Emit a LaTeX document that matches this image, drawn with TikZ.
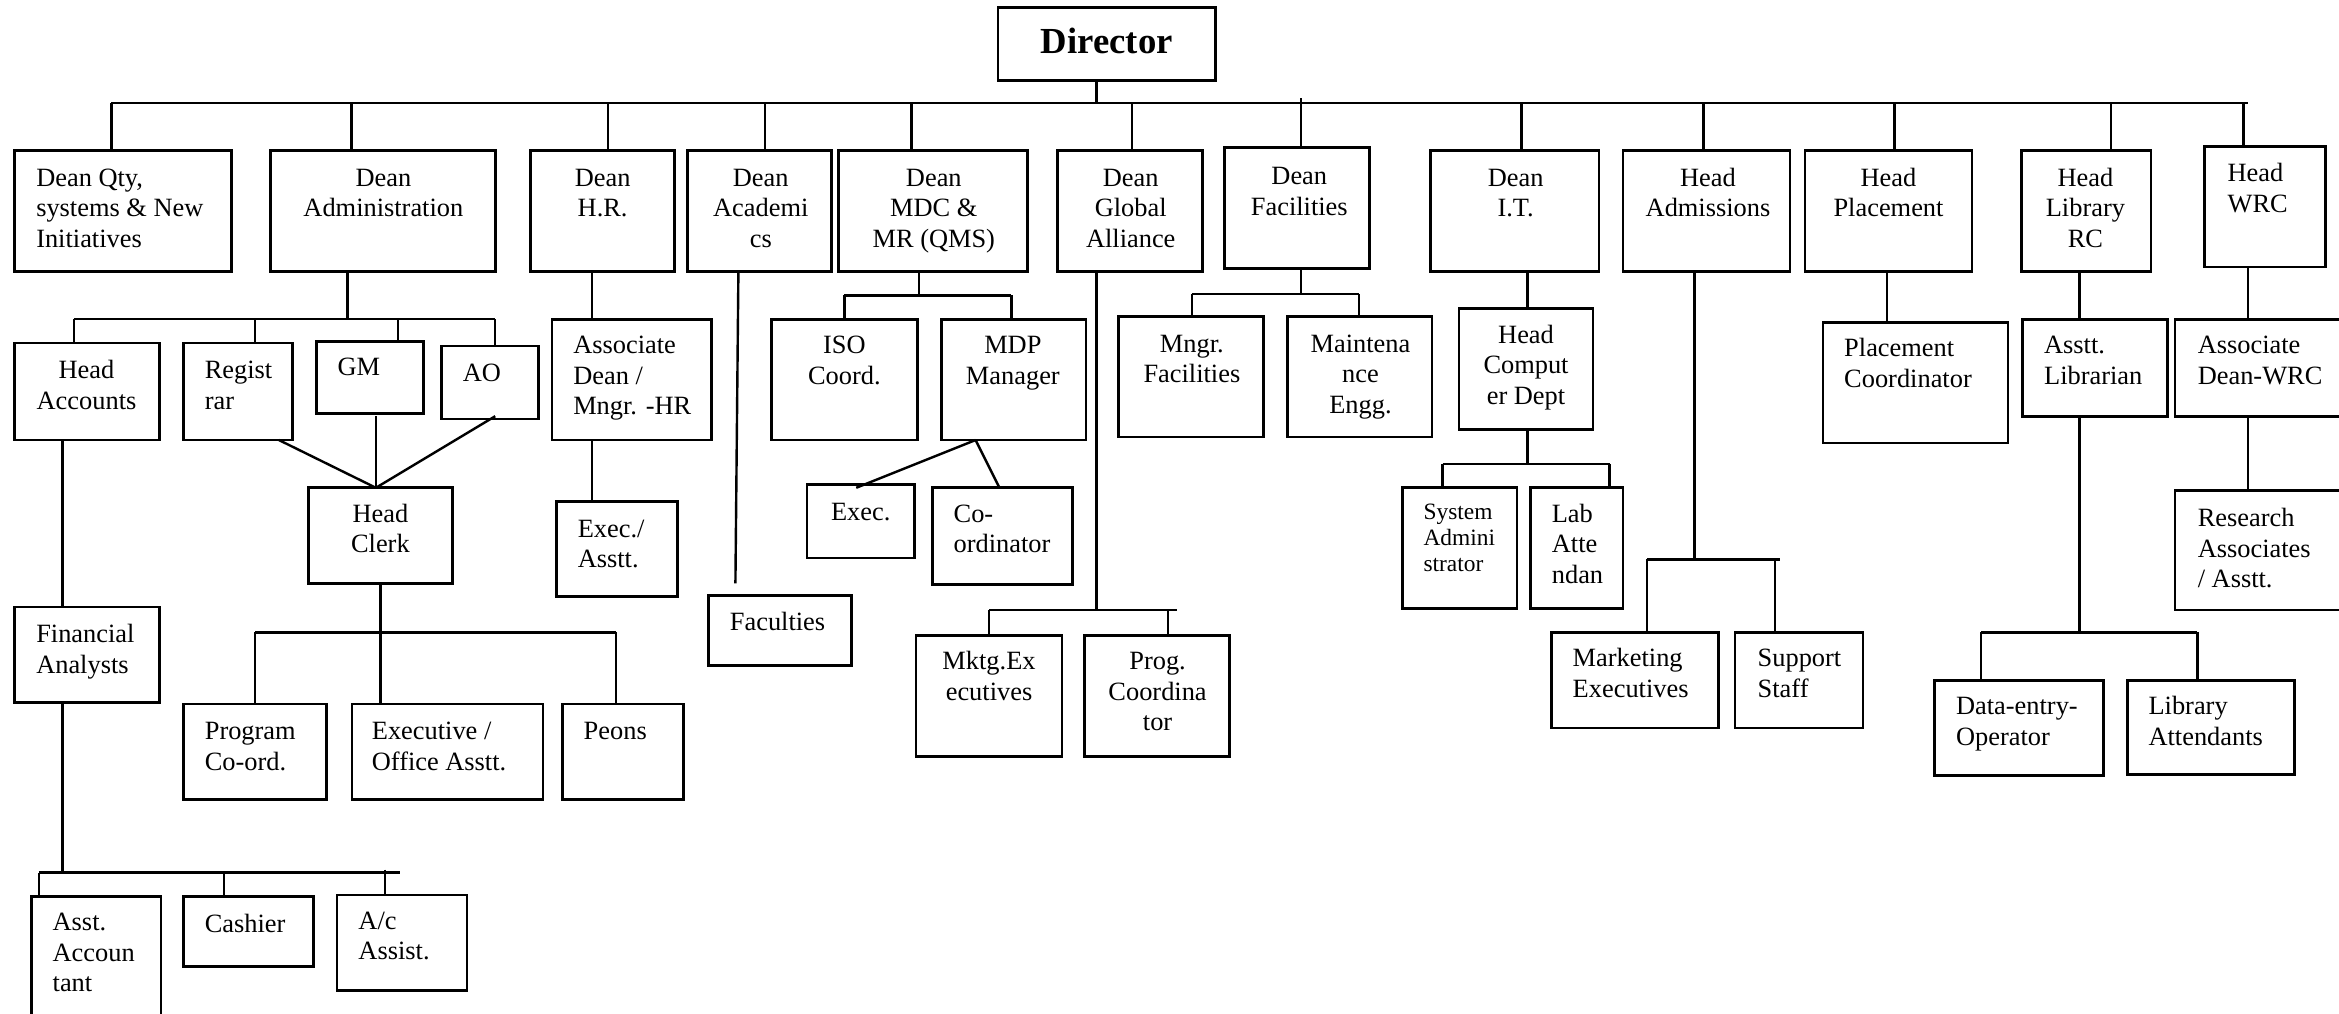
\documentclass[tikz,border=0pt]{standalone}
\usepackage{fontspec}
\setmainfont{Liberation Serif}
\usetikzlibrary{fit}
\newcommand\bx[5]{\node[box, fit={(#2,#3) (#4,#5)}] (#1) {};}
\newcommand\tc[4]{\node[txt, anchor=base] (#1) at (#2,#3) {\begin{tabular}[t]{@{}c@{}}#4\end{tabular}};}
\newcommand\tl[4]{\node[txt, anchor=base west] (#1) at (#2,#3) {\begin{tabular}[t]{@{}l@{}}#4\end{tabular}};}
\begin{document}
\begin{tikzpicture}[x=0.65pt,y=-0.65pt,
  box/.style={draw, line width=1.15pt, inner sep=0pt},
  ln/.style={line width=1.05pt},
  txt/.style={inner sep=0pt, font=\fontsize{11.5}{13.3}\selectfont},
  smalltxt/.style={inner sep=0pt, font=\fontsize{10.2}{11.5}\selectfont}]
\useasboundingbox (0,0) rectangle (1568,679.1);

% ---------- Director ----------
\bx{dir}{669}{5}{815}{54}
\node[inner sep=0pt, anchor=base, font=\fontsize{16}{18}\selectfont\bfseries] (dirT) at (742,36) {Director};
\coordinate (busM) at (735,69);
\draw[ln] (dir.south -| busM) -- (busM);
\coordinate (busL) at (74.7,69);
\coordinate (busR) at (1507,69);
\draw[ln] (busL) -- (busR);

% ---------- Row 1 ----------
\bx{qty}{9.6}{101}{155}{182}
\tl{qtyT}{24}{125}{Dean Qty,\\systems \& New\\Initiatives}
\bx{adm}{181.5}{101}{332}{182}
\tc{admT}{257}{125}{Dean\\Administration}
\bx{hr}{355.5}{101}{452}{182}
\tc{hrT}{404}{125}{Dean\\H.R.}
\bx{aca}{461}{101}{557.6}{182}
\tc{acaT}{510}{125}{Dean\\Academi\\cs}
\bx{mdc}{562}{101}{689}{182}
\tc{mdcT}{626}{125}{Dean\\MDC \&\\MR (QMS)}
\bx{glo}{709}{101}{806}{182}
\tc{gloT}{758}{125}{Dean\\Global\\Alliance}
\bx{fac}{821}{99}{918}{180}
\tc{facT}{871}{124}{Dean\\Facilities}
\bx{it}{959}{101}{1072}{182}
\tc{itT}{1016}{125}{Dean\\I.T.}
\bx{adms}{1088}{101}{1200}{182}
\tc{admsT}{1145}{125}{Head\\Admissions}
\bx{plc}{1210}{101}{1322}{182}
\tc{plcT}{1266}{125}{Head\\Placement}
\bx{lib}{1355}{101}{1442}{182}
\tc{libT}{1398}{125}{Head\\Library\\RC}
\bx{wrc}{1478}{98}{1559}{179}
\tl{wrcT}{1493}{122}{Head\\WRC}

% drops from top bus
\coordinate (d1) at (74.7,69);   \draw[ln] (d1) -- (d1 |- qty.north);
\coordinate (d2) at (235.6,69);  \draw[ln] (d2) -- (d2 |- adm.north);
\coordinate (d3) at (407.5,69);  \draw[ln] (d3) -- (d3 |- hr.north);
\coordinate (d4) at (513,69);    \draw[ln] (d4) -- (d4 |- aca.north);
\coordinate (d5) at (611,69);    \draw[ln] (d5) -- (d5 |- mdc.north);
\coordinate (d6) at (759,69);    \draw[ln] (d6) -- (d6 |- glo.north);
\coordinate (d7) at (872,66);    \draw[ln] (d7) -- (d7 |- fac.north);
\coordinate (d8) at (1020,69);   \draw[ln] (d8) -- (d8 |- it.north);
\coordinate (d9) at (1142,69);   \draw[ln] (d9) -- (d9 |- adms.north);
\coordinate (d10) at (1270,69);  \draw[ln] (d10) -- (d10 |- plc.north);
\coordinate (d11) at (1415,69);  \draw[ln] (d11) -- (d11 |- lib.north);
\coordinate (d12) at (1504,69);  \draw[ln] (d12) -- (d12 |- wrc.north);

% ---------- Administration subtree ----------
\bx{hacc}{9.6}{230}{107}{295}
\tc{haccT}{58}{254}{Head\\Accounts}
\bx{reg}{123}{230}{196}{295}
\tl{regT}{137}{254}{Regist\\rar}
\bx{gm}{212}{229}{284}{277}
\tl{gmT}{226}{252}{GM}
\bx{ao}{296}{232}{361}{281}
\tl{aoT}{310}{256}{AO}

\coordinate (ab0) at (233,214);
\draw[ln] (adm.south -| ab0) -- (ab0);
\coordinate (ab1) at (49.6,214);
\coordinate (ab2) at (332,214);
\draw[ln] (ab1) -- (ab2);
\draw[ln] (ab1) -- (ab1 |- hacc.north);
\coordinate (ab3) at (171,214); \draw[ln] (ab3) -- (ab3 |- reg.north);
\coordinate (ab4) at (267,214); \draw[ln] (ab4) -- (ab4 |- gm.north);
\draw[ln] (ab2) -- (ab2 |- ao.north);

\bx{hc}{207}{327}{303.4}{391}
\tc{hcT}{255}{350}{Head\\Clerk}
\coordinate (hcIn) at (252,327);
\coordinate (regOut) at (187,295);
\coordinate (gmOut) at (252,279);
\coordinate (aoOut) at (332,279);
\draw[ln] (regOut) -- (hcIn);
\draw[ln] (gmOut) -- (hcIn);
\draw[ln] (aoOut) -- (hcIn);

\bx{prg}{123}{472}{219}{536}
\tl{prgT}{137}{496}{Program\\Co-ord.}
\bx{exo}{236}{472}{364}{536}
\tl{exoT}{249}{496}{Executive /\\Office Asstt.}
\bx{peo}{377}{472}{458}{536}
\tl{peoT}{391}{496}{Peons}
\coordinate (hb0) at (255,424);
\draw[ln] (hc.south -| hb0) -- (hb0);
\coordinate (hb1) at (171,424);
\coordinate (hb2) at (413,424);
\draw[ln] (hb1) -- (hb2);
\draw[ln] (hb1) -- (hb1 |- prg.north);
\draw[ln] (hb0) -- (hb0 |- exo.north);
\draw[ln] (hb2) -- (hb2 |- peo.north);

% Accounts chain
\bx{fa}{9.6}{407}{107}{471}
\tl{faT}{24}{431}{Financial\\Analysts}
\coordinate (fa0) at (42,295);
\draw[ln] (fa0) -- (fa0 |- fa.north);
\coordinate (fb0) at (42,585);
\draw[ln] (fa.south -| fb0) -- (fb0);
\coordinate (fb1) at (26,585);
\coordinate (fb2) at (268,585);
\draw[ln] (fb1) -- (fb2);
\bx{aac}{21}{601}{108}{690}
\tl{aacT}{35}{624}{Asst.\\Accoun\\tant}
\bx{cas}{123}{601}{210}{648}
\tl{casT}{137}{625}{Cashier}
\bx{acs}{226}{600}{313}{664}
\tl{acsT}{240}{623}{A/c\\Assist.}
\draw[ln] (fb1) -- (fb1 |- aac.north);
\coordinate (fb3) at (150,585); \draw[ln] (fb3) -- (fb3 |- cas.north);
\coordinate (fb4) at (258,583); \draw[ln] (fb4) -- (fb4 |- acs.north);

% ---------- H.R. subtree ----------
\bx{adhr}{370}{214}{477}{295}
\tl{adhrT}{384}{237}{Associate\\Dean /\\Mngr. -HR}
\coordinate (hr0) at (397,182);
\draw[ln] (hr0) -- (hr0 |- adhr.north);
\bx{exa}{373}{336}{454}{400}
\tl{exaT}{387}{360}{Exec./\\Asstt.}
\coordinate (hr1) at (397,295);
\draw[ln] (hr1) -- (hr1 |- exa.north);

% ---------- Academics ----------
\bx{fcl}{475}{399}{571}{446}
\tl{fclT}{489}{423}{Faculties}
\coordinate (ac0) at (495,182);
\coordinate (ac1) at (493,391);
\draw[ln] (ac0) -- (ac1);

% ---------- MDC subtree ----------
\bx{iso}{517}{214}{615}{295}
\tc{isoT}{566}{237}{ISO\\Coord.}
\bx{mdp}{631}{214}{728}{295}
\tc{mdpT}{679}{237}{MDP\\Manager}
\coordinate (mb0) at (616,198);
\draw[ln] (mdc.south -| mb0) -- (mb0);
\coordinate (mb1) at (566,198);
\coordinate (mb2) at (678,198);
\draw[ln] (mb1) -- (mb2);
\draw[ln] (mb1) -- (mb1 |- iso.north);
\draw[ln] (mb2) -- (mb2 |- mdp.north);
\bx{exc}{541}{325}{613}{374}
\tc{excT}{577}{349}{Exec.}
\bx{cor}{625}{327}{719}{392}
\tl{corT}{639}{350}{Co-\\ordinator}
\coordinate (mdpOut) at (654,295);
\coordinate (excIn) at (574,327);
\coordinate (corIn) at (670,327);
\draw[ln] (mdpOut) -- (excIn);
\draw[ln] (mdpOut) -- (corIn);

% ---------- Global Alliance subtree ----------
\coordinate (gb0) at (735,409);
\draw[ln] (glo.south -| gb0) -- (gb0);
\coordinate (gb1) at (663,409);
\coordinate (gb2) at (789,409);
\draw[ln] (gb1) -- (gb2);
\bx{mkt}{614}{426}{712}{507}
\tc{mktT}{663}{449}{Mktg.Ex\\ecutives}
\bx{pco}{727}{426}{824}{507}
\tc{pcoT}{776}{449}{Prog.\\Coordina\\tor}
\draw[ln] (gb1) -- (gb1 |- mkt.north);
\coordinate (gb3) at (783,409); \draw[ln] (gb3) -- (gb3 |- pco.north);

% ---------- Facilities subtree ----------
\coordinate (fcb0) at (872,198);
\draw[ln] (fac.south -| fcb0) -- (fcb0);
\coordinate (fcb1) at (799,197);
\coordinate (fcb2) at (911,197);
\draw[ln] (fcb1) -- (fcb2);
\bx{mfc}{750}{212}{847}{293}
\tc{mfcT}{799}{236}{Mngr.\\Facilities}
\bx{mnt}{863}{212}{960}{293}
\tc{mntT}{912}{236}{Maintena\\nce\\Engg.}
\draw[ln] (fcb1) -- (fcb1 |- mfc.north);
\draw[ln] (fcb2) -- (fcb2 |- mnt.north);

% ---------- I.T. subtree ----------
\bx{hcd}{978}{207}{1068}{288}
\tc{hcdT}{1023}{230}{Head\\Comput\\er Dept}
\coordinate (it0) at (1024,182);
\draw[ln] (it0) -- (it0 |- hcd.north);
\coordinate (ib0) at (1024,311);
\draw[ln] (hcd.south -| ib0) -- (ib0);
\coordinate (ib1) at (967,311);
\coordinate (ib2) at (1079,311);
\draw[ln] (ib1) -- (ib2);
\bx{sys}{940}{327}{1017}{408}
\node[smalltxt, anchor=base west] (sysT) at (954,348) {\begin{tabular}[t]{@{}l@{}}System\\Admini\\strator\end{tabular}};
\bx{lab}{1026}{327}{1088}{408}
\tl{labT}{1040}{350}{Lab\\Atte\\ndan}
\draw[ln] (ib1) -- (ib1 |- sys.north);
\draw[ln] (ib2) -- (ib2 |- lab.north);

% ---------- Admissions subtree ----------
\coordinate (sb0) at (1136,375);
\draw[ln] (adms.south -| sb0) -- (sb0);
\coordinate (sb1) at (1104,375);
\coordinate (sb2) at (1193,375);
\draw[ln] (sb1) -- (sb2);
\bx{mex}{1040}{424}{1152}{488}
\tl{mexT}{1054}{447}{Marketing\\Executives}
\bx{sup}{1163}{424}{1249}{488}
\tl{supT}{1178}{447}{Support\\Staff}
\draw[ln] (sb1) -- (sb1 |- mex.north);
\coordinate (sb3) at (1190,375); \draw[ln] (sb3) -- (sb3 |- sup.north);

% ---------- Placement subtree ----------
\bx{pcd}{1222}{216}{1346}{297}
\tl{pcdT}{1236}{239}{Placement\\Coordinator}
\coordinate (pl0) at (1265,182);
\draw[ln] (pl0) -- (pl0 |- pcd.north);

% ---------- Library subtree ----------
\bx{alb}{1356}{214}{1453}{279}
\tl{albT}{1370}{237}{Asstt.\\Librarian}
\coordinate (lb0) at (1394,182);
\draw[ln] (lb0) -- (lb0 |- alb.north);
\coordinate (lb1) at (1394,424);
\draw[ln] (alb.south -| lb1) -- (lb1);
\coordinate (lb2) at (1328,424);
\coordinate (lb3) at (1473,424);
\draw[ln] (lb2) -- (lb3);
\bx{deo}{1297}{456}{1410}{520}
\tl{deoT}{1311}{479}{Data-entry-\\Operator}
\bx{lat}{1426}{456}{1538}{519}
\tl{latT}{1440}{479}{Library\\Attendants}
\draw[ln] (lb2) -- (lb2 |- deo.north);
\draw[ln] (lb3) -- (lb3 |- lat.north);

% ---------- WRC subtree ----------
\bx{adw}{1458}{214}{1575}{279}
\tl{adwT}{1473}{237}{Associate\\Dean-WRC}
\coordinate (w0) at (1507,179);
\draw[ln] (w0) -- (w0 |- adw.north);
\bx{res}{1458}{329}{1575}{409}
\tl{resT}{1473}{353}{Research\\Associates\\/ Asstt.}
\coordinate (w1) at (1507,279);
\draw[ln] (w1) -- (w1 |- res.north);
\end{tikzpicture}
\end{document}
